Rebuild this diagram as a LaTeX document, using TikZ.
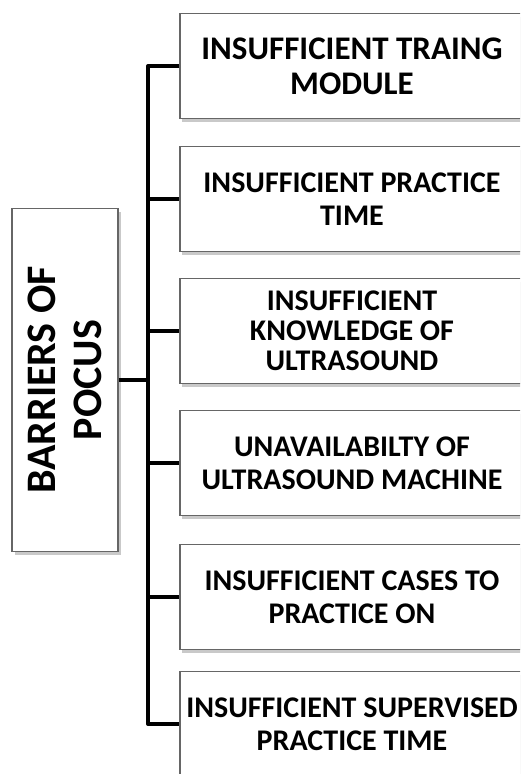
\documentclass[tikz,border=0pt]{standalone}
\usepackage{fontspec}
\setmainfont{Carlito}
\usetikzlibrary{shadows}
\begin{document}
\begin{tikzpicture}[x=1pt,y=-1pt,
  item/.style={draw=black!60, line width=1.2pt, fill=white, minimum width=344pt, minimum height=105pt,
    align=center, font=\bfseries\fontsize{30}{33}\selectfont, inner sep=0pt,
    drop shadow={shadow xshift=2pt, shadow yshift=-3pt, opacity=0.35, fill=black!60}},
  root/.style={draw=black!60, line width=1.2pt, fill=white, minimum width=343pt, minimum height=106pt,
    align=center, font=\bfseries\fontsize{42}{46}\selectfont, inner sep=0pt, rotate=90,
    drop shadow={shadow xshift=3pt, shadow yshift=-3pt, opacity=0.35, fill=black!60}},
  link/.style={line width=4pt, line join=round}]
\useasboundingbox (0,0) rectangle (520,774);
\clip (0,0) rectangle (520,774);
\fill[white] (0,0) rectangle (520,774);
\node[root] (r) at (65,380) {BARRIERS OF\\POCUS};
\node[item, font=\bfseries\fontsize{33}{35}\selectfont] (b1) at (352,66) {INSUFFICIENT TRAING\\MODULE};
\node[item] (b2) at (352,199) {INSUFFICIENT PRACTICE\\TIME};
\node[item, font=\bfseries\fontsize{30}{30}\selectfont] (b3) at (352,331) {INSUFFICIENT\\KNOWLEDGE OF\\ULTRASOUND};
\node[item] (b4) at (352,463) {UNAVAILABILTY OF\\ULTRASOUND MACHINE};
\node[item] (b5) at (352,597) {INSUFFICIENT CASES TO\\PRACTICE ON};
\node[item] (b6) at (352,724) {INSUFFICIENT SUPERVISED\\PRACTICE TIME};
\coordinate (t1) at (148,66);
\coordinate (t6) at (148,724);
\coordinate (tr) at (148,380);
\draw[link] (b1.west) -- (t1) -- (t6) -- (b6.west);
\draw[link] (r.south) -- (tr);
\draw[link] (148,199) -- (b2.west);
\draw[link] (148,331) -- (b3.west);
\draw[link] (148,463) -- (b4.west);
\draw[link] (148,597) -- (b5.west);
\end{tikzpicture}
\end{document}
